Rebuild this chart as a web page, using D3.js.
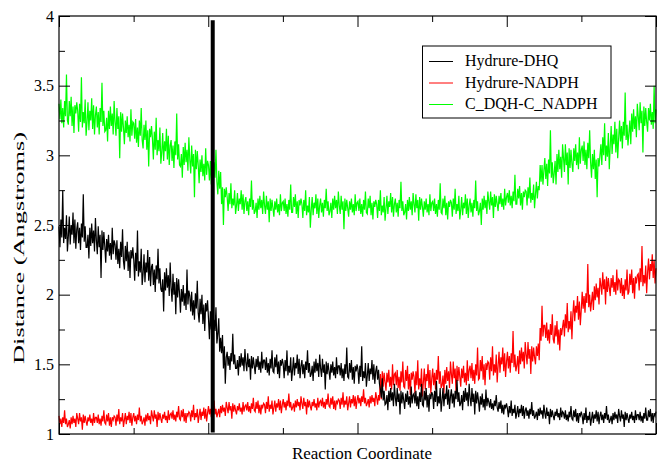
<!DOCTYPE html>
<html>
<head>
<meta charset="utf-8">
<script src="https://cdn.jsdelivr.net/npm/d3@7"></script>
<style>
  html, body { margin: 0; padding: 0; background: #fff; }
  svg { display: block; }
  text { font-family: "Liberation Serif", "Times New Roman", serif; fill: #000; }
</style>
</head>
<body>
<svg id="chart" width="658" height="463"></svg>
<script>
// ---- data ----
const xRange = [0, 8];                 // reaction coordinate span (unlabelled)
const yRange = [1, 4];
const yTickLabels = ["1", "1.5", "2", "2.5", "3", "3.5", "4"];
const yMajorTicks = [1, 1.5, 2, 2.5, 3, 3.5, 4];
const yMinorTicks = [1.25, 1.75, 2.25, 2.75, 3.25, 3.75];
const xMajorTicks = [0, 2, 4, 6, 8];
const xMinorTicks = [1, 3, 5, 7];
const seriesNames = ["Hydrure-DHQ", "Hydrure-NADPH", "C_DQH-C_NADPH"];
const seriesColors = ["#000000", "#ff0000", "#00ff00"];

const hydrureDHQ = [
2.49,2.34,2.54,2.41,2.75,2.37,2.48,2.40,2.57,2.31,
2.42,2.56,2.36,2.50,2.43,2.59,2.37,2.54,2.33,2.47,
2.52,2.37,2.48,2.32,2.51,2.41,2.72,2.38,2.49,2.34,
2.34,2.43,2.26,2.48,2.35,2.51,2.37,2.46,2.31,2.55,
2.39,2.29,2.49,2.34,2.43,2.12,2.46,2.32,2.45,2.35,
2.23,2.40,2.31,2.43,2.28,2.37,2.25,2.48,2.29,2.39,
2.36,2.25,2.39,2.22,2.33,2.19,2.38,2.27,2.47,2.24,
2.18,2.35,2.24,2.38,2.17,2.31,2.12,2.32,2.26,2.34,
2.25,2.10,2.30,2.17,2.46,2.13,2.24,2.16,2.33,2.07,
2.15,2.29,2.09,2.23,2.16,2.32,2.10,2.27,2.06,2.20,
2.22,2.07,2.18,2.02,2.21,2.11,2.33,2.08,2.19,2.04,
2.02,2.11,1.88,2.16,2.03,2.19,2.05,2.14,1.99,2.23,
2.05,1.95,2.15,2.00,2.09,1.86,2.12,1.98,2.11,2.01,
1.87,2.04,1.95,2.07,1.92,2.01,1.89,2.18,1.93,2.03,
1.99,1.88,2.02,1.85,1.96,1.82,2.01,1.90,2.10,1.87,
1.80,1.97,1.86,2.00,1.79,1.93,1.74,1.94,1.88,1.96,
1.83,1.68,1.88,1.75,1.98,1.71,1.82,1.74,1.91,1.65,
1.72,1.83,1.59,1.69,1.58,1.71,1.47,1.63,1.36,1.55,
1.59,1.49,1.56,1.46,1.58,1.52,1.72,1.50,1.57,1.47,
1.47,1.53,1.42,1.56,1.48,1.58,1.49,1.55,1.45,1.61,
1.51,1.45,1.58,1.48,1.54,1.39,1.56,1.47,1.55,1.49,
1.43,1.54,1.48,1.56,1.46,1.52,1.44,1.59,1.47,1.53,
1.53,1.46,1.55,1.44,1.51,1.42,1.54,1.47,1.60,1.45,
1.44,1.55,1.48,1.57,1.43,1.52,1.40,1.53,1.49,1.54,
1.50,1.40,1.53,1.45,1.60,1.42,1.49,1.44,1.55,1.38,
1.46,1.55,1.42,1.51,1.47,1.57,1.43,1.54,1.40,1.49,
1.53,1.43,1.50,1.40,1.52,1.46,1.60,1.44,1.51,1.41,
1.43,1.49,1.38,1.52,1.44,1.54,1.45,1.51,1.41,1.57,
1.47,1.41,1.54,1.44,1.50,1.32,1.52,1.43,1.51,1.45,
1.39,1.50,1.44,1.52,1.42,1.48,1.40,1.55,1.43,1.49,
1.49,1.42,1.51,1.40,1.47,1.38,1.50,1.43,1.62,1.41,
1.40,1.51,1.44,1.53,1.39,1.48,1.36,1.49,1.45,1.50,
1.46,1.36,1.49,1.41,1.63,1.38,1.45,1.40,1.51,1.34,
1.42,1.51,1.38,1.47,1.43,1.53,1.39,1.50,1.36,1.45,
1.49,1.39,1.46,1.36,1.32,1.26,1.40,1.24,1.31,1.21,
1.22,1.28,1.17,1.31,1.23,1.33,1.24,1.30,1.20,1.36,
1.26,1.20,1.33,1.23,1.29,1.14,1.31,1.22,1.30,1.24,
1.18,1.29,1.23,1.31,1.21,1.27,1.19,1.34,1.22,1.28,
1.29,1.22,1.31,1.20,1.27,1.18,1.30,1.23,1.36,1.21,
1.20,1.31,1.24,1.33,1.19,1.28,1.16,1.29,1.25,1.30,
1.28,1.18,1.31,1.23,1.38,1.20,1.27,1.22,1.33,1.16,
1.24,1.33,1.20,1.29,1.25,1.35,1.21,1.32,1.18,1.27,
1.32,1.22,1.29,1.19,1.31,1.25,1.39,1.23,1.30,1.20,
1.22,1.28,1.17,1.31,1.23,1.33,1.24,1.30,1.20,1.36,
1.26,1.20,1.33,1.23,1.29,1.14,1.31,1.22,1.30,1.24,
1.16,1.27,1.21,1.29,1.19,1.25,1.17,1.32,1.20,1.26,
1.23,1.19,1.25,1.18,1.22,1.17,1.24,1.20,1.28,1.19,
1.16,1.23,1.18,1.24,1.15,1.21,1.14,1.21,1.19,1.22,
1.18,1.12,1.20,1.15,1.24,1.13,1.18,1.15,1.21,1.11,
1.15,1.20,1.12,1.18,1.15,1.21,1.13,1.20,1.11,1.17,
1.19,1.13,1.17,1.11,1.18,1.14,1.23,1.13,1.17,1.11,
1.13,1.16,1.10,1.18,1.13,1.19,1.14,1.17,1.11,1.21,
1.15,1.11,1.19,1.13,1.16,1.07,1.18,1.12,1.17,1.13,
1.10,1.16,1.13,1.18,1.12,1.15,1.10,1.19,1.12,1.16,
1.15,1.11,1.17,1.10,1.14,1.09,1.16,1.12,1.20,1.11,
1.10,1.17,1.12,1.18,1.09,1.15,1.08,1.15,1.13,1.16,
1.13,1.07,1.15,1.10,1.19,1.08,1.13,1.10,1.16,1.06,
1.11,1.16,1.08,1.14,1.11,1.17,1.09,1.16,1.07,1.13,
1.16,1.10,1.14,1.08,1.15,1.11,1.20,1.10,1.14,1.08,
1.10,1.13,1.07,1.15,1.10,1.16,1.11,1.14,1.08,1.18,
1.13,1.09,1.17,1.11,1.14,1.05,1.16,1.10,1.15,1.11,
1.08,1.14,1.11,1.16,1.10,1.13,1.08,1.17,1.10,1.14,
1.14,1.10,1.16,1.09,1.13,1.08,1.15,1.11,1.19,1.10,
1.10,1.17,1.12,1.18,1.09,1.15,1.08,1.15,1.13,1.16
];

const hydrureNADPH = [
1.13,1.07,1.11,1.05,1.12,1.08,1.17,1.07,1.11,1.05,
1.07,1.10,1.04,1.12,1.07,1.13,1.08,1.11,1.05,1.15,
1.11,1.07,1.15,1.09,1.12,1.03,1.14,1.08,1.13,1.09,
1.06,1.12,1.09,1.14,1.08,1.11,1.06,1.15,1.08,1.12,
1.12,1.08,1.14,1.07,1.11,1.06,1.13,1.09,1.17,1.08,
1.07,1.14,1.09,1.15,1.06,1.12,1.05,1.12,1.10,1.13,
1.12,1.06,1.14,1.09,1.18,1.07,1.12,1.09,1.15,1.05,
1.10,1.15,1.07,1.13,1.10,1.16,1.08,1.15,1.06,1.12,
1.15,1.09,1.13,1.07,1.14,1.10,1.19,1.09,1.13,1.07,
1.09,1.12,1.06,1.14,1.09,1.15,1.10,1.13,1.07,1.17,
1.13,1.09,1.17,1.11,1.14,1.05,1.16,1.10,1.15,1.11,
1.08,1.14,1.11,1.16,1.10,1.13,1.08,1.17,1.10,1.14,
1.15,1.11,1.17,1.10,1.14,1.09,1.16,1.12,1.20,1.11,
1.10,1.17,1.12,1.18,1.09,1.15,1.08,1.15,1.13,1.16,
1.15,1.09,1.17,1.12,1.21,1.10,1.15,1.12,1.18,1.08,
1.13,1.18,1.10,1.16,1.13,1.19,1.11,1.18,1.09,1.15,
1.20,1.14,1.18,1.12,1.19,1.15,1.24,1.14,1.18,1.12,
1.15,1.18,1.12,1.20,1.15,1.21,1.16,1.19,1.13,1.23,
1.19,1.15,1.23,1.17,1.20,1.11,1.22,1.16,1.21,1.17,
1.14,1.20,1.17,1.22,1.16,1.19,1.14,1.23,1.16,1.20,
1.21,1.17,1.23,1.16,1.20,1.15,1.22,1.18,1.26,1.17,
1.16,1.23,1.18,1.24,1.15,1.21,1.14,1.21,1.19,1.22,
1.21,1.15,1.23,1.18,1.27,1.16,1.21,1.18,1.24,1.14,
1.19,1.24,1.16,1.22,1.19,1.25,1.17,1.24,1.15,1.21,
1.25,1.19,1.23,1.17,1.24,1.20,1.29,1.19,1.23,1.17,
1.19,1.22,1.16,1.24,1.19,1.25,1.20,1.23,1.17,1.27,
1.22,1.18,1.26,1.20,1.23,1.14,1.25,1.19,1.24,1.20,
1.17,1.23,1.20,1.25,1.19,1.22,1.17,1.26,1.19,1.23,
1.24,1.20,1.26,1.19,1.23,1.18,1.25,1.21,1.29,1.20,
1.19,1.26,1.21,1.27,1.18,1.24,1.17,1.24,1.22,1.25,
1.24,1.18,1.26,1.21,1.30,1.19,1.24,1.21,1.27,1.17,
1.22,1.27,1.19,1.25,1.22,1.28,1.20,1.27,1.18,1.24,
1.28,1.22,1.26,1.20,1.27,1.23,1.32,1.22,1.26,1.20,
1.22,1.25,1.19,1.27,1.22,1.28,1.23,1.26,1.20,1.30,
1.26,1.21,1.28,1.24,1.43,1.25,1.45,1.34,1.44,1.37,
1.31,1.44,1.37,1.46,1.34,1.41,1.32,1.50,1.35,1.43,
1.44,1.35,1.46,1.33,1.41,1.31,1.45,1.37,1.52,1.34,
1.33,1.46,1.38,1.49,1.32,1.43,1.28,1.44,1.39,1.45,
1.41,1.29,1.45,1.35,1.53,1.32,1.40,1.34,1.47,1.27,
1.37,1.47,1.32,1.43,1.38,1.50,1.33,1.46,1.29,1.40,
1.47,1.35,1.44,1.32,1.46,1.39,1.56,1.36,1.45,1.33,
1.35,1.42,1.29,1.46,1.36,1.48,1.38,1.45,1.33,1.52,
1.43,1.36,1.52,1.40,1.47,1.29,1.49,1.38,1.48,1.41,
1.34,1.47,1.40,1.49,1.37,1.44,1.35,1.53,1.38,1.46,
1.49,1.40,1.51,1.38,1.46,1.36,1.50,1.42,1.62,1.39,
1.40,1.53,1.45,1.56,1.39,1.50,1.35,1.51,1.46,1.52,
1.51,1.39,1.55,1.45,1.63,1.42,1.50,1.44,1.57,1.37,
1.49,1.59,1.44,1.55,1.50,1.62,1.45,1.58,1.41,1.52,
1.59,1.47,1.56,1.44,1.58,1.51,1.74,1.48,1.57,1.45,
1.49,1.56,1.43,1.60,1.50,1.62,1.52,1.59,1.47,1.66,
1.57,1.50,1.66,1.54,1.61,1.43,1.63,1.52,1.62,1.55,
1.50,1.63,1.56,1.65,1.53,1.76,1.67,1.92,1.70,1.78,
1.78,1.69,1.80,1.67,1.75,1.65,1.79,1.71,1.86,1.68,
1.65,1.78,1.70,1.81,1.64,1.75,1.60,1.76,1.71,1.77,
1.82,1.70,1.86,1.76,1.94,1.73,1.81,1.75,1.88,1.68,
1.86,1.96,1.81,1.92,1.87,1.99,1.82,1.95,1.78,1.89,
2.02,1.90,1.99,1.87,2.01,1.94,2.22,1.91,2.00,1.88,
1.95,2.02,1.89,2.06,1.96,2.08,1.98,2.05,1.93,2.12,
2.07,2.00,2.16,2.04,2.11,1.93,2.13,2.02,2.12,2.05,
1.99,2.12,2.05,2.14,2.02,2.09,2.00,2.18,2.03,2.11,
2.10,2.01,2.12,1.99,2.07,1.97,2.11,2.03,2.18,2.00,
2.02,2.15,2.07,2.18,2.01,2.12,1.97,2.13,2.08,2.14,
2.15,2.03,2.19,2.09,2.35,2.06,2.14,2.08,2.21,2.01,
2.16,2.26,2.11,2.22,2.17,2.29,2.12,2.25,2.08,2.19
];

const cDQHcNADPH = [
3.37,3.26,3.40,3.23,3.34,3.20,3.39,3.28,3.58,3.25,
3.22,3.39,3.28,3.42,3.21,3.35,3.16,3.36,3.30,3.38,
3.32,3.17,3.37,3.24,3.56,3.20,3.31,3.23,3.40,3.14,
3.24,3.38,3.18,3.32,3.25,3.41,3.19,3.36,3.15,3.29,
3.35,3.20,3.31,3.15,3.34,3.24,3.52,3.21,3.32,3.17,
3.18,3.27,3.10,3.32,3.19,3.35,3.21,3.30,3.15,3.39,
3.24,3.14,3.34,3.19,3.28,2.98,3.31,3.17,3.30,3.20,
3.08,3.25,3.16,3.28,3.13,3.22,3.10,3.33,3.14,3.24,
3.23,3.12,3.26,3.09,3.20,3.06,3.25,3.14,3.34,3.11,
3.05,3.22,3.11,3.25,3.04,3.18,2.92,3.19,3.13,3.21,
3.12,2.97,3.17,3.04,3.27,3.00,3.11,3.03,3.20,2.94,
3.02,3.16,2.96,3.10,3.03,3.19,2.97,3.14,2.93,3.07,
3.11,2.96,3.07,2.91,3.10,3.00,3.30,2.97,3.08,2.93,
2.92,3.01,2.84,3.06,2.93,3.09,2.95,3.04,2.89,3.13,
2.97,2.87,3.07,2.92,3.01,2.70,3.04,2.90,3.03,2.93,
2.80,2.97,2.88,3.00,2.85,2.94,2.82,3.05,2.86,2.96,
2.93,2.82,2.96,2.79,2.90,2.76,2.95,2.84,3.04,2.81,
2.72,2.89,2.76,2.88,2.65,2.77,2.50,2.76,2.70,2.77,
2.70,2.60,2.73,2.65,2.80,2.62,2.69,2.64,2.75,2.58,
2.64,2.73,2.60,2.69,2.65,2.75,2.61,2.72,2.58,2.67,
2.70,2.60,2.67,2.57,2.69,2.63,2.82,2.61,2.68,2.58,
2.60,2.66,2.55,2.69,2.61,2.71,2.62,2.68,2.58,2.74,
2.64,2.58,2.71,2.61,2.67,2.52,2.69,2.60,2.68,2.62,
2.56,2.67,2.61,2.69,2.59,2.65,2.57,2.72,2.60,2.66,
2.67,2.60,2.69,2.58,2.65,2.56,2.68,2.61,2.79,2.59,
2.59,2.70,2.63,2.72,2.58,2.67,2.55,2.68,2.64,2.69,
2.65,2.55,2.68,2.60,2.75,2.57,2.64,2.59,2.70,2.48,
2.61,2.70,2.57,2.66,2.62,2.72,2.58,2.69,2.55,2.64,
2.69,2.59,2.66,2.56,2.68,2.62,2.76,2.60,2.67,2.57,
2.60,2.66,2.55,2.69,2.61,2.71,2.62,2.68,2.58,2.74,
2.64,2.58,2.71,2.61,2.67,2.47,2.69,2.60,2.68,2.62,
2.56,2.67,2.61,2.69,2.59,2.65,2.57,2.72,2.60,2.66,
2.67,2.60,2.69,2.58,2.65,2.56,2.68,2.61,2.74,2.59,
2.58,2.69,2.62,2.71,2.57,2.66,2.54,2.67,2.63,2.68,
2.65,2.55,2.68,2.60,2.75,2.57,2.64,2.59,2.70,2.53,
2.62,2.71,2.58,2.67,2.63,2.73,2.59,2.70,2.56,2.65,
2.69,2.59,2.66,2.56,2.68,2.62,2.81,2.60,2.67,2.57,
2.59,2.65,2.54,2.68,2.60,2.70,2.61,2.67,2.57,2.73,
2.65,2.59,2.72,2.62,2.68,2.53,2.70,2.61,2.69,2.63,
2.56,2.67,2.61,2.69,2.59,2.65,2.57,2.72,2.60,2.66,
2.67,2.60,2.69,2.58,2.65,2.56,2.68,2.61,2.80,2.59,
2.58,2.69,2.62,2.71,2.57,2.66,2.54,2.67,2.63,2.68,
2.66,2.56,2.69,2.61,2.76,2.58,2.65,2.60,2.71,2.54,
2.61,2.70,2.57,2.66,2.62,2.72,2.58,2.69,2.55,2.64,
2.69,2.59,2.66,2.56,2.68,2.62,2.82,2.60,2.67,2.57,
2.60,2.66,2.50,2.69,2.61,2.71,2.62,2.68,2.58,2.74,
2.67,2.61,2.74,2.64,2.70,2.55,2.72,2.63,2.71,2.65,
2.60,2.71,2.65,2.73,2.63,2.69,2.61,2.76,2.64,2.70,
2.73,2.66,2.75,2.64,2.71,2.62,2.74,2.67,2.86,2.65,
2.65,2.76,2.69,2.78,2.64,2.73,2.61,2.74,2.70,2.75,
2.74,2.64,2.77,2.69,2.84,2.66,2.73,2.68,2.79,2.62,
2.72,2.81,2.69,2.78,2.75,2.93,2.81,2.93,2.79,2.89,
2.98,2.83,2.94,2.78,2.97,2.87,3.18,2.84,2.95,2.80,
2.87,2.96,2.79,3.01,2.88,3.04,2.90,2.99,2.84,3.08,
2.98,2.88,3.08,2.93,3.02,2.79,3.05,2.91,3.04,2.94,
2.88,3.05,2.96,3.08,2.93,3.02,2.90,3.13,2.94,3.04,
3.07,2.96,3.10,2.93,3.04,2.90,3.09,2.98,3.18,2.95,
2.84,3.01,2.90,3.04,2.83,2.97,2.70,2.98,2.92,3.00,
3.08,2.93,3.13,3.00,3.23,2.96,3.07,2.99,3.16,2.90,
3.07,3.21,3.01,3.15,3.08,3.24,3.02,3.19,2.98,3.12,
3.25,3.10,3.21,3.05,3.24,3.14,3.45,3.11,3.22,3.07,
3.16,3.25,3.08,3.30,3.17,3.33,3.19,3.28,3.13,3.37,
3.28,3.18,3.38,3.23,3.32,3.02,3.35,3.21,3.34,3.24,
3.17,3.34,3.25,3.37,3.22,3.31,3.19,3.50,3.23,3.33
];

// vertical marker bar (x position, y extent)
const markerX = [2.06, 2.06];
const markerY = [1.01, 3.97];

// ---- drawing ----
const svg = d3.select("#chart");
const M = { left: 59, top: 16, right: 2, bottom: 29 };
const W = 658 - M.left - M.right;   // 597
const H = 463 - M.top - M.bottom;   // 418

const x = d3.scaleLinear().domain(xRange).range([0, W]);
const y = d3.scaleLinear().domain(yRange).range([H, 0]);

const g = svg.append("g").attr("transform", `translate(${M.left},${M.top})`);

const allSeries = [hydrureDHQ, hydrureNADPH, cDQHcNADPH];
const sampleX = (arr) => arr.map((v, i) => xRange[0] + i * (xRange[1] - xRange[0]) / (arr.length - 1));

const line = d3.line().x(d => x(d[0])).y(d => y(d[1]));

// draw order: red, black, green
[1, 0, 2].forEach(si => {
  const arr = allSeries[si];
  const xs = sampleX(arr);
  g.append("path")
    .datum(arr.map((v, i) => [xs[i], v]))
    .attr("fill", "none")
    .attr("stroke", seriesColors[si])
    .attr("stroke-width", 1.2)
    .attr("d", line);
});

// marker bar
g.append("path")
  .datum(markerX.map((v, i) => [v, markerY[i]]))
  .attr("fill", "none")
  .attr("stroke", "#000")
  .attr("stroke-width", 4)
  .attr("d", line);

// axes with inward ticks
function styleAxis(sel) {
  sel.select(".domain").remove();
  sel.selectAll(".tick line").attr("stroke", "#000").attr("stroke-width", 1);
}

g.append("g").attr("transform", `translate(0,${H})`)
  .call(d3.axisBottom(x).tickValues(xMajorTicks).tickSize(-11).tickFormat(""))
  .call(styleAxis);
g.append("g").attr("transform", `translate(0,${H})`)
  .call(d3.axisBottom(x).tickValues(xMinorTicks).tickSize(-6).tickFormat(""))
  .call(styleAxis);
g.append("g")
  .call(d3.axisTop(x).tickValues(xMajorTicks).tickSize(-11).tickFormat(""))
  .call(styleAxis);
g.append("g")
  .call(d3.axisTop(x).tickValues(xMinorTicks).tickSize(-6).tickFormat(""))
  .call(styleAxis);

const yl = g.append("g")
  .call(d3.axisLeft(y).tickValues(yMajorTicks).tickSize(-11).tickPadding(5)
    .tickFormat((d, i) => yTickLabels[i]))
  .call(styleAxis);
yl.selectAll(".tick text").attr("font-size", "16px")
  .attr("font-family", '"Liberation Serif", "Times New Roman", serif').attr("fill", "#000");
g.append("g")
  .call(d3.axisLeft(y).tickValues(yMinorTicks).tickSize(-6).tickFormat(""))
  .call(styleAxis);
g.append("g").attr("transform", `translate(${W},0)`)
  .call(d3.axisRight(y).tickValues(yMajorTicks).tickSize(-11).tickFormat(""))
  .call(styleAxis);
g.append("g").attr("transform", `translate(${W},0)`)
  .call(d3.axisRight(y).tickValues(yMinorTicks).tickSize(-6).tickFormat(""))
  .call(styleAxis);

// frame
g.append("rect").attr("x", 0).attr("y", 0).attr("width", W).attr("height", H)
  .attr("fill", "none").attr("stroke", "#000").attr("stroke-width", 1.2);

// axis titles
svg.append("text")
  .attr("x", 362).attr("y", 459)
  .attr("text-anchor", "middle")
  .attr("font-size", "17px")
  .text("Reaction Coordinate");

svg.append("text")
  .attr("transform", "translate(24,248) rotate(-90)")
  .attr("text-anchor", "middle")
  .attr("font-size", "15px")
  .attr("fill", "#333")
  .attr("textLength", 232)
  .attr("lengthAdjust", "spacingAndGlyphs")
  .text("Distance (Angstroms)");

// legend
const lg = svg.append("g");
lg.append("rect").attr("x", 422.5).attr("y", 46).attr("width", 188.5).attr("height", 72)
  .attr("fill", "#fff").attr("stroke", "#000").attr("stroke-width", 1);
const legendBaselines = [66, 87.5, 109];
seriesNames.forEach((name, i) => {
  lg.append("line")
    .attr("x1", 429).attr("x2", 453)
    .attr("y1", legendBaselines[i] - 4.5).attr("y2", legendBaselines[i] - 4.5)
    .attr("stroke", seriesColors[i]).attr("stroke-width", 1);
  lg.append("text")
    .attr("x", 465).attr("y", legendBaselines[i])
    .attr("font-size", "16px")
    .text(name);
});
</script>
</body>
</html>
